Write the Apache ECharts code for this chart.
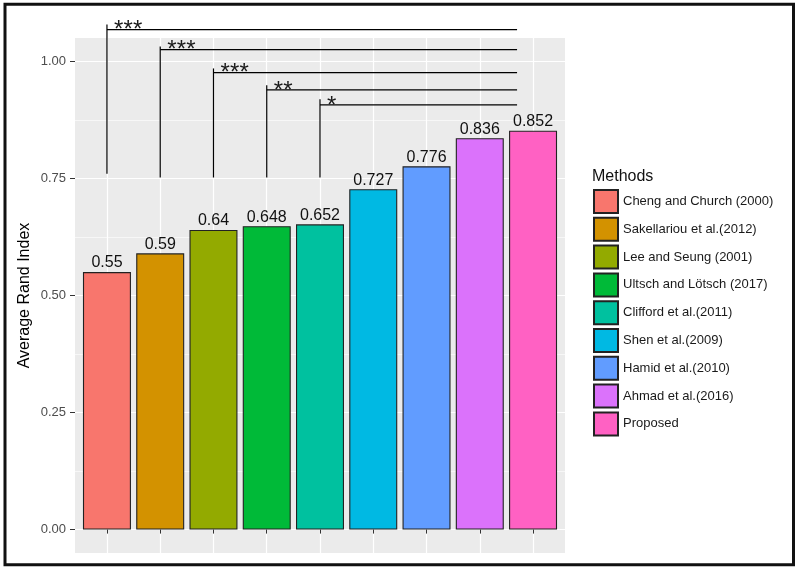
<!DOCTYPE html>
<html>
<head>
<meta charset="utf-8">
<title>Average Rand Index</title>
<script src="https://cdn.jsdelivr.net/npm/echarts@6/dist/echarts.min.js"></script>
<style>
html, body { margin: 0; padding: 0; background: #fff; }
#main { width: 800px; height: 572px; }
</style>
</head>
<body>
<div id="main"></div>
<script>
// methods (legend order) and their average rand index
var methods = ['Cheng and Church (2000)', 'Sakellariou et al.(2012)', 'Lee and Seung (2001)',
    'Ultsch and Lötsch (2017)', 'Clifford et al.(2011)', 'Shen et al.(2009)',
    'Hamid et al.(2010)', 'Ahmad et al.(2016)', 'Proposed'];
var randIndex = [0.55, 0.59, 0.64, 0.648, 0.652, 0.727, 0.776, 0.836, 0.852];
var colors = ['#F8766D', '#D39200', '#93AA00', '#00BA38', '#00C19F', '#00B9E3', '#619CFF', '#DB72FB', '#FF61C3'];

// y axis ticks
var yTicks = [0, 0.25, 0.5, 0.75, 1];
var yMinor = [0.125, 0.375, 0.625, 0.875];
var xTicks = [1, 2, 3, 4, 5, 6, 7, 8, 9];

// significance brackets
var bracketFrom = [1, 2, 3, 4, 5];
var bracketTo = [8.7, 8.7, 8.7, 8.7, 8.7];
var bracketBottom = [0.76, 0.752, 0.752, 0.752, 0.752];
var bracketTop = [1.079, 1.032, 0.985, 0.949, 0.919];
var bracketLevel = [1.068, 1.025, 0.976, 0.939, 0.907];
var bracketStars = ['***', '***', '***', '**', '*'];

var font = 'Liberation Sans, Arial, sans-serif';
var myChart = echarts.init(document.getElementById('main'));

var series = methods.map(function (name, i) {
    return {
        name: name,
        type: 'bar',
        barWidth: 48,
        barGap: '-100%',
        data: [[xTicks[i], randIndex[i]]],
        itemStyle: { color: colors[i], borderColor: '#222', borderWidth: 1.1 },
        label: {
            show: true,
            position: 'top',
            distance: 1,
            fontFamily: font,
            fontSize: 16,
            color: '#111',
            formatter: function (p) { return p.value[1]; }
        }
    };
});

var bracketData = bracketFrom.map(function (x, i) {
    return [x, bracketTo[i], bracketBottom[i], bracketTop[i], bracketLevel[i], i];
});

series.push({
    type: 'custom',
    name: 'brackets',
    clip: false,
    z: 5,
    data: bracketData,
    encode: { x: 0, y: 2 },
    renderItem: function (params, api) {
        var x0 = api.value(0), x1 = api.value(1);
        var pBottom = api.coord([x0, api.value(2)]);
        var pTop = api.coord([x0, api.value(3)]);
        var pL = api.coord([x0, api.value(4)]);
        var pR = api.coord([x1, api.value(4)]);
        var kids = [
            { type: 'line', shape: { x1: pBottom[0], y1: pBottom[1], x2: pTop[0], y2: pTop[1] },
              style: { stroke: '#000', lineWidth: 1.2 } },
            { type: 'line', shape: { x1: pL[0], y1: pL[1], x2: pR[0], y2: pR[1] },
              style: { stroke: '#000', lineWidth: 1.2 } }
        ];
        // stars, a bit spread out like the original
        var stars = bracketStars[api.value(5)];
        for (var k = 0; k < stars.length; k++) {
            kids.push({ type: 'text', x: pL[0] + 7 + k * 9.5, y: pL[1] + 1,
                style: { text: stars[k], font: '24px ' + font, fill: '#1a1a1a',
                         verticalAlign: 'middle', align: 'left' } });
        }
        return { type: 'group', children: kids };
    }
});

myChart.setOption({
    animation: false,
    title: {
        text: 'Methods',
        left: 592,
        top: 169,
        padding: 0,
        textStyle: { fontFamily: font, fontSize: 16, fontWeight: 'normal', color: '#111' }
    },
    legend: {
        data: methods,
        orient: 'vertical',
        left: 593,
        top: 189,
        padding: 0,
        itemWidth: 24,
        itemHeight: 23,
        itemGap: 2.8,
        icon: 'rect',
        textStyle: { fontFamily: font, fontSize: 13, color: '#1a1a1a' }
    },
    grid: {
        left: 75,
        top: 38,
        width: 490,
        height: 515,
        show: true,
        backgroundColor: '#EBEBEB',
        borderWidth: 0
    },
    xAxis: {
        type: 'value',
        min: 0.4,
        max: 9.6,
        axisLine: { show: false },
        axisTick: { show: true, length: 4, customValues: xTicks, lineStyle: { color: '#333' } },
        axisLabel: { show: false },
        splitLine: { show: true, lineStyle: { color: '#fff', width: 1.2 } }
    },
    yAxis: [{
        type: 'value',
        min: -0.05,
        max: 1.05,
        name: 'Average Rand Index',
        nameLocation: 'middle',
        nameRotate: 90,
        nameGap: 42,
        nameMoveOverlap: false,
        nameTextStyle: { fontFamily: font, fontSize: 16, color: '#000' },
        axisLine: { show: false },
        axisTick: { show: true, length: 5, customValues: yTicks, lineStyle: { color: '#333' } },
        axisLabel: {
            customValues: yTicks,
            margin: 9,
            fontFamily: font,
            fontSize: 13,
            color: '#4d4d4d',
            formatter: function (v) { return v.toFixed(2); }
        },
        splitLine: { show: true, lineStyle: { color: '#fff', width: 1.2 } }
    }, {
        // minor grid lines only
        type: 'value',
        min: -0.05,
        max: 1.05,
        position: 'left',
        axisLine: { show: false },
        axisTick: { show: false, customValues: yMinor },
        axisLabel: { show: false },
        splitLine: { show: true, lineStyle: { color: '#fff', width: 0.6 } }
    }],
    graphic: [{
        type: 'rect',
        shape: { x: 5, y: 4.3, width: 788.5, height: 560.5 },
        style: { fill: 'none', stroke: '#111', lineWidth: 3 },
        z: 100
    }],
    series: series
});
</script>
</body>
</html>
